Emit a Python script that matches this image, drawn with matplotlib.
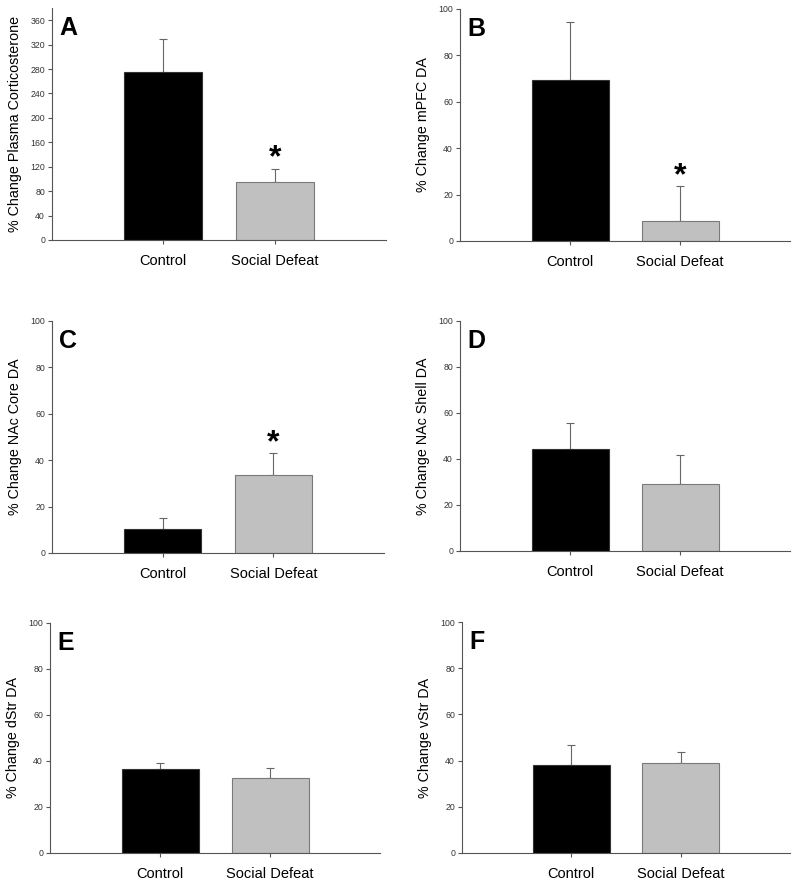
import matplotlib
matplotlib.use("Agg")
import matplotlib.pyplot as plt
import numpy as np

plt.rcParams['font.family'] = ['Liberation Sans', 'DejaVu Sans']

groups = ["Control", "Social Defeat"]
panel_letters = ["A", "B", "C", "D", "E", "F"]
ylabels = ["% Change Plasma Corticosterone", "% Change mPFC DA", "% Change NAc Core DA",
           "% Change NAc Shell DA", "% Change dStr DA", "% Change vStr DA"]
means_A = [275, 95]
sem_A = [55, 22]
means_B = [69.4, 8.5]
sem_B = [25.1, 15.2]
means_C = [10.3, 33.6]
sem_C = [4.8, 9.3]
means_D = [44.2, 29.1]
sem_D = [11.6, 12.5]
means_E = [36.4, 32.7]
sem_E = [2.9, 4.2]
means_F = [38.1, 39.1]
sem_F = [8.5, 4.6]
significant = [[False, True], [False, True], [False, True],
               [False, False], [False, False], [False, False]]
ylims = [380, 100, 100, 100, 100, 100]
yticks = [np.arange(0, 361, 40), np.arange(0, 101, 20), np.arange(0, 101, 20),
          np.arange(0, 101, 20), np.arange(0, 101, 20), np.arange(0, 101, 20)]

means = [means_A, means_B, means_C, means_D, means_E, means_F]
sems = [sem_A, sem_B, sem_C, sem_D, sem_E, sem_F]

W, H = 800, 884
fig = plt.figure(figsize=(W / 100, H / 100), dpi=100)

# axes boxes in pixels: left, top, right, bottom
boxes = [(52, 8, 386, 240), (460, 9, 790, 241),
         (52, 321, 384, 553), (460, 321, 790, 551),
         (50, 623, 380, 853), (462, 622, 790, 853)]

bar_colors = ["black", "#c0c0c0"]
edge_colors = ["#333333", "#7a7a7a"]
axcol = "#555555"

for i in range(6):
    l, t, r, b = boxes[i]
    ax = fig.add_axes([l / W, 1 - b / H, (r - l) / W, (b - t) / H])
    x = np.array([1, 2])
    ax.bar(x, means[i], width=0.7, color=bar_colors, edgecolor=edge_colors, linewidth=0.8, zorder=2)
    for j in range(2):
        ax.errorbar(x[j], means[i][j], yerr=[[0], [sems[i][j]]], fmt='none',
                    ecolor="#666666", elinewidth=0.8, capsize=3, capthick=0.8, zorder=1)
        if significant[i][j]:
            ax.annotate("*", (x[j], means[i][j] + sems[i][j]), xytext=(0, -3.5),
                        textcoords="offset points", ha="center", va="bottom",
                        fontsize=23, fontweight="bold")
    ax.set_xlim(0, 3)
    ax.set_ylim(0, ylims[i])
    ax.set_yticks(yticks[i])
    ax.set_xticks(x)
    ax.set_xticklabels(groups, fontsize=10.5)
    ax.tick_params(axis='y', labelsize=6.3, colors=axcol, labelcolor="#333333", length=3, width=0.8, pad=2)
    ax.tick_params(axis='x', labelsize=10.5, colors=axcol, labelcolor="black", length=3, width=0.8, pad=7)
    for s in ["top", "right"]:
        ax.spines[s].set_visible(False)
    for s in ["left", "bottom"]:
        ax.spines[s].set_color(axcol)
        ax.spines[s].set_linewidth(0.8)
    ax.set_ylabel(ylabels[i], fontsize=10.3, labelpad=6)
    ax.text(0.022, 0.965, panel_letters[i], transform=ax.transAxes, fontsize=18,
            fontweight="bold", ha="left", va="top")

fig.savefig("out.png", dpi=100)
